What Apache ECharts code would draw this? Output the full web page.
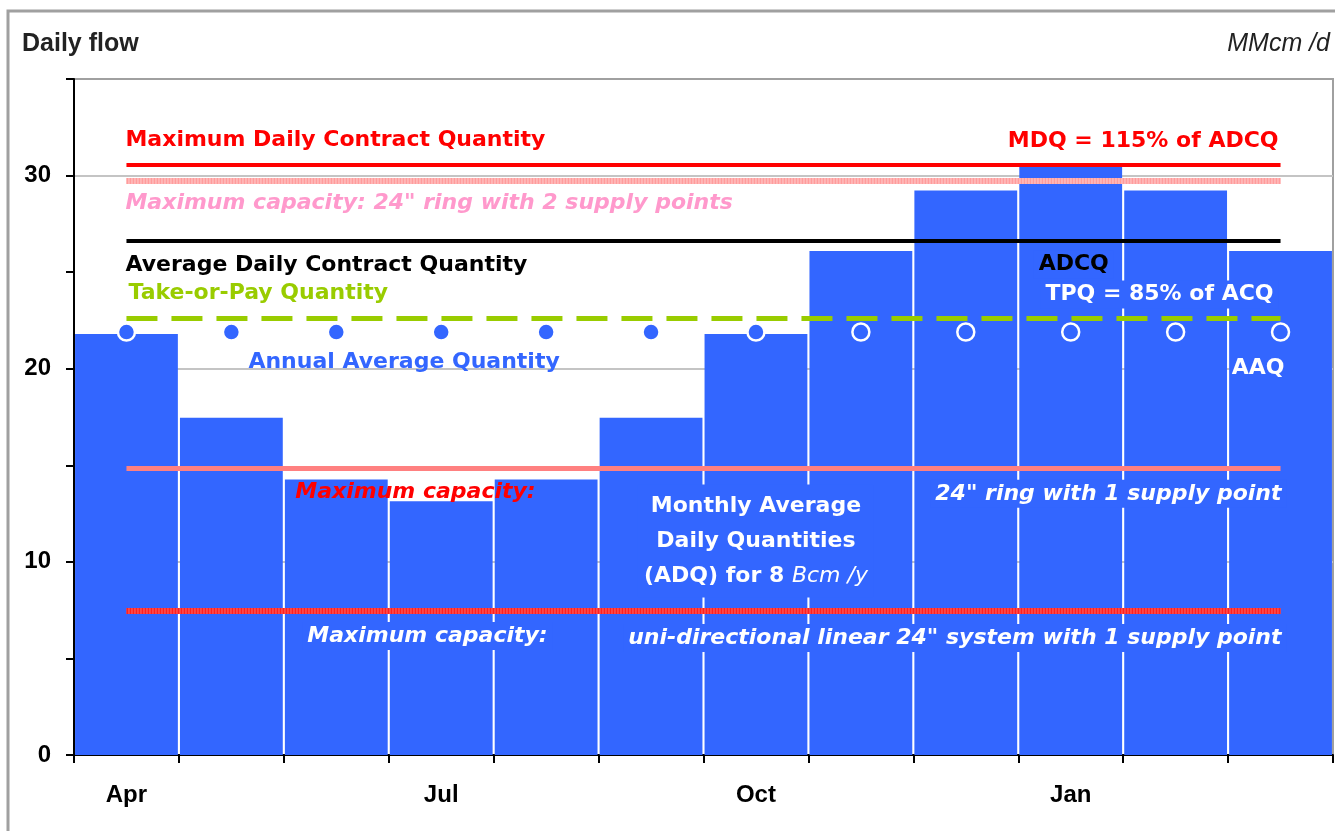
<!DOCTYPE html>
<html>
<head>
<meta charset="utf-8">
<script src="https://cdn.jsdelivr.net/npm/echarts@6/dist/echarts.min.js"></script>
<style>
  html, body { margin: 0; padding: 0; background: #fff; }
  #chart { width: 1335px; height: 831px; }
</style>
</head>
<body>
<div id="chart"></div>
<script>
// months of the gas year
const months = ['Apr', 'May', 'Jun', 'Jul', 'Aug', 'Sep', 'Oct', 'Nov', 'Dec', 'Jan', 'Feb', 'Mar'];
// monthly average daily quantities, MMcm/d
const adq = [21.8, 17.46, 14.26, 13.14, 14.26, 17.46, 21.8, 26.1, 29.23, 30.45, 29.23, 26.1];
// annual average quantity, per month
const aaq = [21.9, 21.9, 21.9, 21.9, 21.9, 21.9, 21.9, 21.9, 21.9, 21.9, 21.9, 21.9];
// reference levels
const mdq = 30.57;
const capRing2 = 29.75;
const adcq = 26.6;
const tpq = 22.6;
const capRing1 = 14.87;
const capLinear = 7.46;
const yLabels = [0, 10, 20, 30];

const LBL = '"DejaVu Sans", sans-serif';
const AX = '"Liberation Sans", Arial, sans-serif';
const BLUE = '#3366ff';

const chart = echarts.init(document.getElementById('chart'));

function level(v, style) {
  return [{coord: [months[0], v], lineStyle: style}, {coord: [months[months.length - 1], v]}];
}

chart.setOption({
  animation: false,
  backgroundColor: '#fff',
  grid: {
    left: 74, right: 2, top: 79, bottom: 76,
    show: true, borderColor: '#a0a0a0', borderWidth: 2
  },
  xAxis: {
    type: 'category',
    data: months,
    boundaryGap: true,
    axisLine: {lineStyle: {color: '#000', width: 2}},
    axisTick: {show: true, interval: 0, length: 8, lineStyle: {color: '#000', width: 2}},
    axisLabel: {interval: 2, margin: 28, color: '#000', fontFamily: AX, fontWeight: 'bold', fontSize: 24},
    splitLine: {show: false}
  },
  yAxis: {
    type: 'value',
    min: 0, max: 35, interval: 5,
    axisLine: {show: true, lineStyle: {color: '#000', width: 2}},
    axisTick: {show: true, length: 8, lineStyle: {color: '#000', width: 2}},
    axisLabel: {
      margin: 23, color: '#000', fontFamily: AX, fontWeight: 'bold', fontSize: 24,
      formatter: v => yLabels.includes(v) ? String(v) : ''
    },
    splitLine: {show: true, lineStyle: {color: ['#c4c4c4', 'rgba(0,0,0,0)'], width: 2}}
  },
  series: [
    {
      type: 'bar',
      data: adq,
      barCategoryGap: '2%',
      itemStyle: {color: BLUE},
      z: 2
    },
    {
      type: 'line',
      data: aaq,
      symbol: 'circle',
      symbolSize: 17,
      lineStyle: {opacity: 0},
      itemStyle: {color: BLUE, borderColor: '#fff', borderWidth: 2.5},
      z: 5,
      markLine: {
        silent: true,
        symbol: 'none',
        label: {show: false},
        data: [
          level(mdq, {color: '#ff0000', width: 4, type: 'solid'}),
          level(capRing2, {color: '#ffcccc', width: 6, type: 'solid'}),
          level(capRing2, {color: '#ff9c9c', width: 6, type: [2, 1]}),
          level(adcq, {color: '#000', width: 4, type: 'solid'}),
          level(tpq, {color: '#99cc00', width: 5, type: [31, 14]}),
          level(capRing1, {color: '#ff8080', width: 5, type: 'solid'}),
          level(capLinear, {color: '#ff6a6a', width: 6, type: 'solid'}),
          level(capLinear, {color: '#ff2020', width: 6, type: [2, 1]})
        ]
      }
    }
  ]
});

// annotations anchored on the axes
const cx = i => chart.convertToPixel({xAxisIndex: 0}, months[i]);
const cy = v => chart.convertToPixel({yAxisIndex: 0}, v);

function txt(text, x, y, fill, opts) {
  const o = opts || {};
  return {
    type: 'text',
    x: x, y: y, z: 100,
    style: Object.assign({
      text: text,
      fill: fill,
      font: (o.italic ? 'italic ' : '') + 'bold ' + (o.size || 22) + 'px ' + (o.family || LBL),
      align: o.align || 'left',
      verticalAlign: 'middle'
    }, o.style || {})
  };
}

const onBlue = {backgroundColor: BLUE, padding: [3, 5]};
const last = months.length - 1;

chart.setOption({
  graphic: [
    {
      type: 'rect', z: 0,
      shape: {x: 8, y: 11, width: 1400, height: 900},
      style: {fill: 'none', stroke: '#a0a0a0', lineWidth: 3}
    },
    txt('Daily flow', 22, 44, '#222', {size: 25, family: AX}),
    {
      type: 'text', x: 1330, y: 44,
      style: {text: 'MMcm /d', fill: '#222', font: 'italic 25px ' + AX, align: 'right', verticalAlign: 'middle'}
    },
    txt('Maximum Daily Contract Quantity', cx(0) - 1, cy(mdq) - 24, '#ff0000'),
    txt('MDQ = 115% of ADCQ', cx(last) - 2, cy(mdq) - 23, '#ff0000', {align: 'right'}),
    txt('Maximum capacity: 24" ring with 2 supply points', cx(0) - 1, cy(capRing2) + 23, '#ff99cc', {italic: true}),
    txt('Take-or-Pay Quantity', cx(0) + 2, cy(tpq) - 25, '#99cc00'),
    txt('Average Daily Contract Quantity', cx(0) - 1, cy(adcq) + 24, '#000',
      {style: {backgroundColor: '#fff', padding: [0, 4, 9, 0]}}),
    txt('ADCQ', cx(9) + 3, cy(adcq) + 23, '#000', {align: 'center', style: onBlue}),
    txt('TPQ = 85% of ACQ', cx(last) - 2, cy(tpq) - 24, '#fff', {align: 'right', style: onBlue}),
    txt('Annual Average Quantity', cx(1) + 17, cy(aaq[0]) + 30, BLUE),
    txt('AAQ', cx(last) + 4, cy(aaq[last]) + 36, '#fff', {align: 'right'}),
    txt('Maximum capacity:', cx(2) - 41, cy(capRing1) + 24, '#ff0000', {italic: true}),
    txt('24" ring with 1 supply point', cx(last) + 6, cy(capRing1) + 26, '#fff',
      {italic: true, align: 'right', style: onBlue}),
    txt('Monthly Average\nDaily Quantities\n(ADQ) for 8 {i|Bcm /y}', cx(6), 541, '#fff', {
      align: 'center',
      style: {
        backgroundColor: BLUE, padding: [4, 6], lineHeight: 35,
        rich: {i: {fontStyle: 'italic', fontWeight: 'normal', fontSize: 22, fontFamily: LBL, fill: '#fff', lineHeight: 35}}
      }
    }),
    txt('Maximum capacity:', cx(2) - 34, cy(capLinear) + 25, '#fff', {italic: true, style: onBlue}),
    txt('uni-directional linear 24" system with 1 supply point', cx(last) + 6, cy(capLinear) + 27, '#fff',
      {italic: true, align: 'right', style: onBlue})
  ]
});
</script>
</body>
</html>
